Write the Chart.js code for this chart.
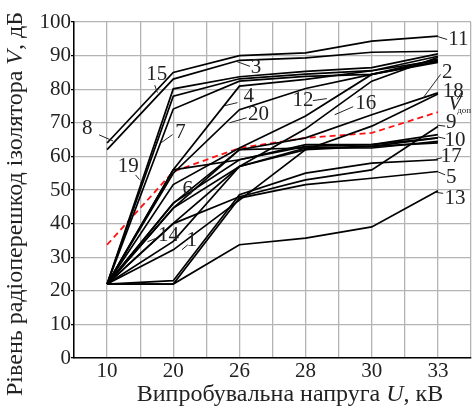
<!DOCTYPE html>
<html><head><meta charset="utf-8">
<script src="https://cdn.jsdelivr.net/npm/chart.js@4.4.0/dist/chart.umd.min.js"></script>
<style>html,body{margin:0;padding:0;background:#fff}#wrap{width:472px;height:409px}</style>
</head><body><div id="wrap"><canvas id="c" width="472" height="409"></canvas></div>
<script>
// ---- data ----
const voltages = ['10', '20', '26', '28', '30', '33'];
const yTickValues = [0, 10, 20, 30, 40, 50, 60, 70, 80, 90, 100];
const s1  = [22, 32.2, 47, 62, 63, 64];
const s2  = [22, 40.1, 57, 62, 69, 78.6];
const s3  = [22, 80.1, 83.7, 85.3, 86.4, 90.5];
const s4  = [22, 56, 80.9, 82.9, 85.5, 88.6];
const s5  = [22, 22, 47.6, 51.6, 53.5, 55.5];
const s6  = [22, 46.1, 59, 63, 63.5, 66.5];
const s7  = [22, 74.1, 82.4, 83.8, 84.4, 89.0];
const s8  = [62, 83, 88.6, 89.3, 91.0, 91.3];
const s9  = [22, 40, 48, 53, 56, 68.9];
const s10 = [22, 44.6, 62, 62.5, 63, 65.5];
const s11 = [64, 85, 90, 90.8, 94.3, 95.8];
const s12 = [22, 51.6, 62.5, 72, 84.4, 88.0];
const s13 = [22, 22, 33.7, 35.7, 39, 49.8];
const s14 = [22, 34.7, 57, 62.5, 62.5, 64.5];
const s15 = [22, 77.9, 83.1, 84.5, 85.5, 89.8];
const s16 = [22, 44.6, 57, 68.2, 82.4, 89.5];
const s17 = [22, 23, 48.6, 55, 58, 59];
const s18 = [22, 46, 62, 65.5, 72.4, 78.9];
const s19 = [22, 56, 59, 63.5, 63.5, 65.5];
const s20 = [22, 55, 73.9, 80.2, 84.4, 88.3];
const vDop = [33.7, 55.5, 62.5, 65.5, 67, 73.2];

const seriesList = [s1,s2,s3,s4,s5,s6,s7,s8,s9,s10,s11,s12,s13,s14,s15,s16,s17,s18,s19,s20];

// label annotations: text, position (category index, value), leader from->to
const curveLabels = [
  {t:'8',  x:-0.30, y:68.6, l:[-0.12,66.4, 0.09,64.6]},
  {t:'15', x:0.75,  y:84.6, l:[0.72,81.2, 0.76,79.0]},
  {t:'3',  x:2.25,  y:86.7, l:[2.16,86.8, 1.95,88.3]},
  {t:'4',  x:2.14,  y:78.1, l:[1.97,76.0, 1.78,75.1]},
  {t:'20', x:2.29,  y:72.7, l:[2.11,71.5, 1.85,70.0]},
  {t:'7',  x:1.11,  y:67.4, l:[0.99,66.5, 0.82,64.1]},
  {t:'19', x:0.32,  y:57.2, l:[0.43,54.5, 0.49,53.1]},
  {t:'6',  x:1.22,  y:50.4, l:null},
  {t:'14', x:0.93,  y:36.7, l:[0.76,35.8, 0.61,34.6]},
  {t:'1',  x:1.28,  y:35.2, l:[1.22,33.7, 1.13,32.2]},
  {t:'12', x:2.96,  y:76.9, l:[3.11,76.6, 3.32,77.2]},
  {t:'16', x:3.91,  y:76.0, l:[3.72,74.8, 3.44,72.4]},
  {t:'11', x:5.31,  y:95.1, l:[5.14,94.8, 4.99,95.7]},
  {t:'2',  x:5.14,  y:85.2, l:[5.04,84.4, 4.78,77.5]},
  {t:'18', x:5.23,  y:79.6, l:null},
  {t:'9',  x:5.20,  y:70.4, l:[5.11,69.0, 4.99,69.3]},
  {t:'10', x:5.26,  y:65.0, l:[5.11,65.3, 5.0,65.8]},
  {t:'17', x:5.20,  y:60.2, l:[5.06,59.6, 4.94,59.0]},
  {t:'5',  x:5.20,  y:54.0, l:[5.11,54.5, 5.0,55.4]},
  {t:'13', x:5.26,  y:47.7, l:[5.08,49.0, 4.97,49.3]}
];

const SERIF = '"Liberation Serif", "Times New Roman", serif';
const datasets = seriesList.map((s, k) => ({
  label: String(k + 1),
  data: s.map((v, i) => ({x: i, y: v})),
  borderColor: '#000', borderWidth: 1.7, pointRadius: 0, fill: false, tension: 0
}));
datasets.push({
  label: 'Vдоп',
  data: vDop.map((v, i) => ({x: i, y: v})),
  borderColor: '#ff1010', borderWidth: 1.8, borderDash: [6, 4], pointRadius: 0, fill: false
});

function measureParts(ctx, parts, size) {
  let total = 0;
  parts.forEach(p => { ctx.font = (p.i ? 'italic ' : '') + size + 'px ' + SERIF; p.w = ctx.measureText(p.s).width; total += p.w; });
  return total;
}

const annotPlugin = {
  id: 'annot',
  afterDatasetsDraw(chart) {
    const ctx = chart.ctx, xs = chart.scales.x, ys = chart.scales.y;
    ctx.save();
    ctx.fillStyle = '#222'; ctx.strokeStyle = '#222'; ctx.lineWidth = 1;
    ctx.font = '21px ' + SERIF; ctx.textAlign = 'center'; ctx.textBaseline = 'middle';
    curveLabels.forEach(c => {
      ctx.fillText(c.t, xs.getPixelForValue(c.x), ys.getPixelForValue(c.y) + 1);
      if (c.l) {
        ctx.beginPath();
        ctx.moveTo(xs.getPixelForValue(c.l[0]), ys.getPixelForValue(c.l[1]));
        ctx.lineTo(xs.getPixelForValue(c.l[2]), ys.getPixelForValue(c.l[3]));
        ctx.stroke();
      }
    });
    // V_доп label
    const vx = xs.getPixelForValue(5.2), vy = ys.getPixelForValue(75.5);
    ctx.font = 'italic 21px ' + SERIF; ctx.textAlign = 'left';
    ctx.fillText('V', vx - 3, vy);
    ctx.font = '9px ' + SERIF;
    ctx.fillText('доп', vx + 6, vy + 6);
    ctx.beginPath();
    ctx.moveTo(vx + 6, vy - 5); ctx.lineTo(vx + 11, vy - 13); ctx.stroke();
    ctx.restore();
  },
  afterDraw(chart) {
    const ctx = chart.ctx;
    ctx.save();
    ctx.fillStyle = '#222'; ctx.textBaseline = 'alphabetic'; ctx.textAlign = 'left';
    const size = 24;
    // x title
    const xp = [{s:'Випробувальна напруга '},{s:'U',i:true},{s:', кВ'}];
    let w = measureParts(ctx, xp, size);
    let x0 = 290 - w / 2;
    xp.forEach(p => { ctx.font = (p.i ? 'italic ' : '') + size + 'px ' + SERIF; ctx.fillText(p.s, x0, 401); x0 += p.w; });
    // y title
    const yp = [{s:'Рівень радіоперешкод ізолятора '},{s:'V',i:true},{s:', дБ'}];
    w = measureParts(ctx, yp, size);
    ctx.translate(22, 204);
    ctx.rotate(-Math.PI / 2);
    let y0 = -w / 2;
    yp.forEach(p => { ctx.font = (p.i ? 'italic ' : '') + size + 'px ' + SERIF; ctx.fillText(p.s, y0, 0); y0 += p.w; });
    ctx.restore();
  }
};

new Chart(document.getElementById('c'), {
  type: 'line',
  data: { datasets },
  options: {
    responsive: false, animation: false, devicePixelRatio: 1,
    layout: { padding: { top: 22, right: 1, left: 0, bottom: 0 } },
    plugins: { legend: { display: false }, tooltip: { enabled: false } },
    scales: {
      x: {
        type: 'linear', min: -0.5, max: 5.5,
        afterBuildTicks: s => { const t = []; for (let v = -0.5; v <= 5.5001; v += 0.5) t.push({value: Math.round(v * 10) / 10}); s.ticks = t; },
        afterFit: s => { s.height = 51; },
        ticks: {
          autoSkip: false, maxRotation: 0, padding: 1, color: '#222',
          font: { family: SERIF, size: 21 },
          callback: v => Number.isInteger(v) && v >= 0 && v < voltages.length ? voltages[v] : ''
        },
        grid: { color: '#b4b4b4', lineWidth: 1.3, drawTicks: false },
        border: { color: '#000', width: 1.5 }
      },
      y: {
        min: 0, max: 100,
        afterBuildTicks: s => { s.ticks = yTickValues.map(v => ({value: v})); },
        afterFit: s => { s.width = 74; },
        ticks: { padding: 0, color: '#222', font: { family: SERIF, size: 21 } },
        grid: { color: '#b4b4b4', lineWidth: 1.3, tickColor: '#000', tickLength: 3 },
        border: { color: '#000', width: 1.5 }
      }
    }
  },
  plugins: [annotPlugin]
});
</script></body></html>
